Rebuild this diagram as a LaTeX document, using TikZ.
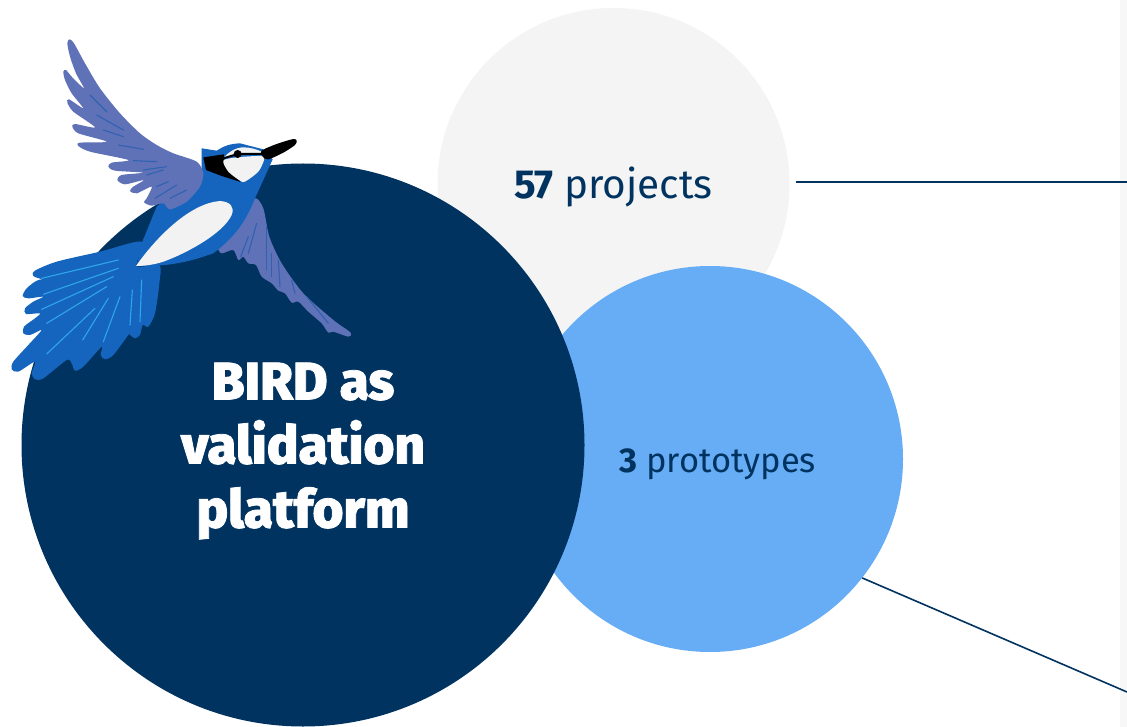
\documentclass[tikz,border=0pt]{standalone}
\usepackage{fontspec}
\setmainfont{Fira Sans}
\newfontfamily\titlefont[FakeBold=1.5]{Fira Sans ExtraBold}
\definecolor{navy}{HTML}{003360}
\definecolor{paleGrey}{HTML}{F4F4F4}
\definecolor{skyBlue}{HTML}{66ADF5}
\definecolor{birdBlue}{HTML}{1565BF}
\definecolor{wingBlue}{HTML}{5F72B8}
\definecolor{wingLine}{HTML}{2F62B0}
\definecolor{tailLine}{HTML}{2EA6E8}
\definecolor{birdWhite}{HTML}{F2F2F2}
\tikzset{
    bubble/.style={circle,inner sep=0pt,align=center},
    leader/.style={navy,line width=1.6pt},
    feather/.style={line width=1.1pt,line cap=round},
    outline/.style={smooth cycle,tension=.45},
}

\begin{document}
\begin{tikzpicture}[x=1pt,y=-1pt]
            \useasboundingbox (0,0) rectangle (1127,727);
            \fill[white] (0,0) rectangle (1127,727);
            \fill[black!3] (1120,0) rectangle (1127,727);

            \coordinate (projectsEnd) at (1127,182);
            \coordinate (prototypesEnd) at (1127,692);

            \node[bubble,fill=paleGrey,minimum size=352pt] (projects) at (613.5,184) {};
            \node[bubble,fill=skyBlue,minimum size=386pt] (prototypes) at (710,459) {};
            \node[bubble,fill=navy,minimum size=563pt] (platform) at (303,445) {};

            \draw[leader] ([xshift=6pt]projects.east|-projectsEnd) -- (projectsEnd);
            \draw[leader] (prototypes.-38) -- (prototypesEnd);

            \node[navy,font=\fontsize{40.5}{40.5}\selectfont] (projectsText) at (613.5,187) {\textbf{57} projects};
            \node[navy,font=\fontsize{34.5}{34.5}\selectfont] (prototypesText) at (717.5,464) {\textbf{3} prototypes};
            \node[white,align=center,font=\titlefont\fontsize{53}{64}\selectfont] (platformText) at (303,451) {BIRD as\\validation\\platform};

            % bird, in 3x crop coordinates
            \begin{scope}[shift={(0,30)},scale=1/3]
                \fill[wingBlue] plot[outline] coordinates {(765,505) (790,535) (808,620) (845,700) (910,790) (1000,870) (1052,908) (1045,920) (1000,905) (985,908) (965,880) (925,845) (895,815) (875,818) (855,790) (835,782) (815,760) (785,740) (768,705) (745,700) (730,680) (715,690) (700,660) (665,670) (655,650) (690,600) (730,560)};
                \foreach \a/\b in {{(745,620)/(722,680)},{(770,580)/(745,670)},{(800,590)/(800,720)},{(815,670)/(815,740)},{(835,690)/(840,770)},{(875,750)/(885,790)},{(920,800)/(985,880)}}
                    \draw[wingLine,feather] \a -- \b;

                \fill[birdBlue] plot[outline] coordinates {(425,635) (300,665) (170,695) (105,722) (100,738) (130,748) (170,745) (115,750) (80,775) (68,798) (85,805) (130,800) (100,815) (75,835) (78,852) (120,850) (105,865) (72,890) (70,910) (90,915) (125,900) (85,945) (40,995) (35,1018) (55,1025) (105,995) (95,1030) (105,1048) (130,1045) (200,990) (215,1000) (225,1022) (250,1010) (305,950) (302,975) (315,988) (340,975) (385,915) (390,915) (405,925) (420,915) (428,885) (445,890) (465,850) (478,760) (478,705) (410,708)};
                \foreach \a/\b in {{(125,745)/(355,690)},{(130,793)/(355,715)},{(125,838)/(340,740)},{(140,880)/(320,770)},{(140,972)/(285,835)},{(248,930)/(325,805)},{(310,935)/(360,800)},{(390,885)/(397,780)},{(420,875)/(425,750)}}
                    \draw[tailLine,feather] \a -- \b;

                \fill[birdBlue] (605,355) -- (650,362) to[bend left=15] (720,340) -- (790,358) -- (818,388) -- (765,505) to[bend left=15] (640,670) to[bend left=10] (410,708) -- (425,640) -- (470,530) -- (530,480) -- (605,425) -- cycle;

                \fill[wingBlue] plot[outline] coordinates {(610,430) (590,395) (520,370) (470,345) (420,310) (360,250) (300,175) (255,100) (222,40) (208,28) (202,40) (210,80) (228,130) (252,175) (215,140) (198,120) (190,125) (195,150) (215,190) (250,235) (207,208) (202,218) (220,245) (285,292) (225,282) (217,290) (235,310) (320,335) (240,338) (235,348) (270,365) (385,390) (335,398) (325,410) (345,422) (430,428) (365,435) (352,450) (375,463) (432,450) (400,470) (390,483) (410,490) (455,470) (440,505) (432,517) (455,527) (490,520) (510,538) (560,515) (600,470)};
                \foreach \a/\b in {{(270,195)/(320,245)},{(290,255)/(370,300)},{(310,300)/(370,320)},{(355,345)/(430,358)},{(400,392)/(470,395)},{(430,420)/(500,410)},{(440,435)/(490,420)},{(470,470)/(505,455)},{(465,505)/(530,465)},{(510,505)/(560,480)}}
                    \draw[wingLine,feather] \a -- \b;

                \fill[birdWhite] (408,708) .. controls (470,620) and (570,520) .. (660,513) .. controls (690,515) and (705,530) .. (695,555) .. controls (670,610) and (560,670) .. (490,695) .. controls (460,705) and (430,708) .. (408,708) -- cycle;

                % head
                \fill[black] (610,382) -- (672,373) -- (672,400) -- (722,456) -- (665,438) -- (618,420) -- cycle;
                \fill[birdWhite] plot[outline] coordinates {(670,392) (710,382) (785,378) (792,390) (775,425) (735,455) (720,452) (685,425)};
                \fill[birdWhite] (670,385) .. controls (685,365) and (710,352) .. (730,352) .. controls (750,352) and (770,358) .. (785,365) -- (785,372) -- (715,372) -- cycle;
                \draw[black,line width=2pt] (670,385) -- (713,372) -- (790,372);
                \fill[black] (713,372) circle (12);
                \fill[black] plot[outline] coordinates {(785,362) (830,342) (880,327) (890,332) (885,345) (850,368) (805,388) (788,380)};
            \end{scope}
        \end{tikzpicture}
\end{document}
